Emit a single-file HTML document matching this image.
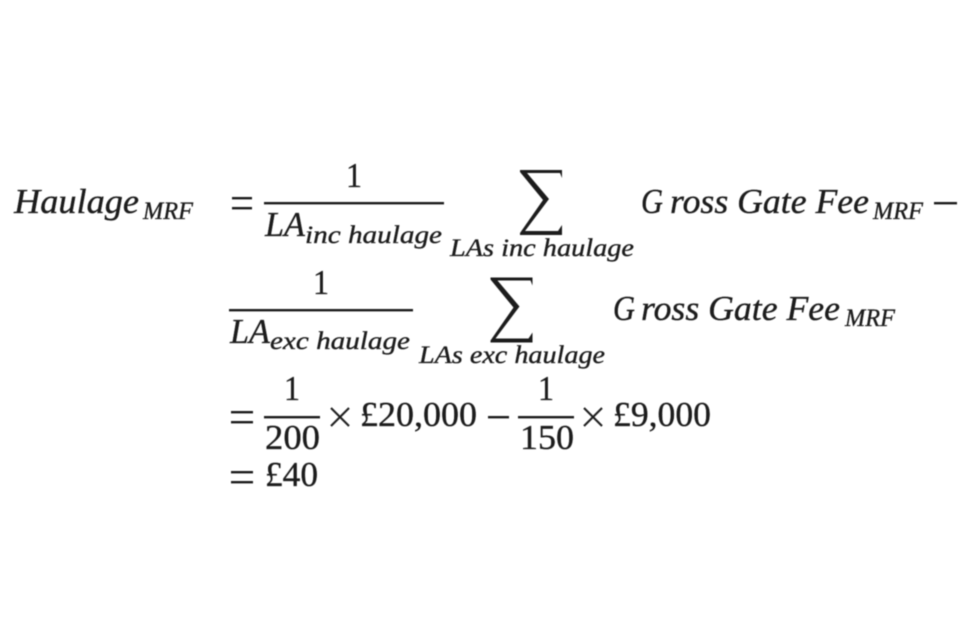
<!DOCTYPE html>
<html><head><meta charset="utf-8"><style>
html,body{margin:0;padding:0;background:#fff;width:960px;height:640px;overflow:hidden}
svg{display:block}
text{font-family:"Liberation Serif",serif;fill:#1c1c1c;stroke:#1c1c1c;stroke-width:.35px;white-space:pre}
.i{font-style:italic;font-size:35px}
.s{font-style:italic;font-size:25px}
.r{font-size:35px}
</style></head><body>
<svg width="960" height="640" viewBox="0 0 960 640" xmlns="http://www.w3.org/2000/svg">
<defs><filter id="b" x="-2%" y="-2%" width="104%" height="104%"><feGaussianBlur stdDeviation="0.5"/></filter></defs>
<rect width="960" height="640" fill="#fff"/>
<g filter="url(#b)">
<text class="i" x="14" y="213" textLength="125" lengthAdjust="spacingAndGlyphs">Haulage</text>
<text class="s" x="143" y="219" textLength="50" lengthAdjust="spacingAndGlyphs">MRF</text>
<rect x="232" y="197" width="20" height="2.4" fill="#1c1c1c"/><rect x="232" y="207" width="20" height="2.4" fill="#1c1c1c"/>
<text class="r" x="346" y="187" textLength="16" lengthAdjust="spacingAndGlyphs">1</text>
<rect x="264" y="202" width="180" height="2.4" fill="#1c1c1c"/>
<text class="i" x="265" y="236" textLength="40" lengthAdjust="spacingAndGlyphs">LA</text>
<text class="s" x="305" y="243" textLength="137" lengthAdjust="spacingAndGlyphs">inc haulage</text>
<path d="M520 170H562V178L560 173H527L549 199L525 231H558L562 225V235H520V233L543 200L520 172Z" fill="#1c1c1c"/>
<text class="s" x="450" y="256" textLength="184" lengthAdjust="spacingAndGlyphs">LAs inc haulage</text>
<text class="i" x="641" y="213" textLength="22" lengthAdjust="spacingAndGlyphs">G</text>
<text class="i" x="670" y="213" textLength="199" lengthAdjust="spacingAndGlyphs">ross Gate Fee</text>
<text class="s" x="873" y="219" textLength="50" lengthAdjust="spacingAndGlyphs">MRF</text>
<rect x="934" y="202" width="23" height="2.4" fill="#1c1c1c"/>

<text class="r" x="313" y="294" textLength="16" lengthAdjust="spacingAndGlyphs">1</text>
<rect x="229" y="309" width="184" height="2.4" fill="#1c1c1c"/>
<text class="i" x="230" y="343" textLength="40" lengthAdjust="spacingAndGlyphs">LA</text>
<text class="s" x="270" y="349" textLength="140" lengthAdjust="spacingAndGlyphs">exc haulage</text>
<path transform="translate(-29.5,107.5)" d="M520 170H562V178L560 173H527L549 199L525 231H558L562 225V235H520V233L543 200L520 172Z" fill="#1c1c1c"/>
<text class="s" x="419" y="363" textLength="186" lengthAdjust="spacingAndGlyphs">LAs exc haulage</text>
<text class="i" x="613" y="320" textLength="22" lengthAdjust="spacingAndGlyphs">G</text>
<text class="i" x="641" y="320" textLength="199" lengthAdjust="spacingAndGlyphs">ross Gate Fee</text>
<text class="s" x="845" y="326" textLength="50" lengthAdjust="spacingAndGlyphs">MRF</text>

<rect x="231" y="411" width="22" height="2.4" fill="#1c1c1c"/><rect x="231" y="421" width="22" height="2.4" fill="#1c1c1c"/>
<text class="r" x="284" y="400" textLength="16" lengthAdjust="spacingAndGlyphs">1</text>
<rect x="264" y="416" width="56" height="2.4" fill="#1c1c1c"/>
<text class="r" x="265" y="449" textLength="55" lengthAdjust="spacingAndGlyphs">200</text>
<path d="M331 408L349 426M349 408L331 426" stroke="#1c1c1c" stroke-width="2" fill="none"/>
<text class="r" x="360" y="426" textLength="117" lengthAdjust="spacingAndGlyphs">£20,000</text>
<rect x="488" y="416" width="21" height="2.4" fill="#1c1c1c"/>
<text class="r" x="538" y="400" textLength="16" lengthAdjust="spacingAndGlyphs">1</text>
<rect x="518" y="416" width="56" height="2.4" fill="#1c1c1c"/>
<text class="r" x="520" y="449" textLength="54" lengthAdjust="spacingAndGlyphs">150</text>
<path d="M584 408L602 426M602 408L584 426" stroke="#1c1c1c" stroke-width="2" fill="none"/>
<text class="r" x="613" y="426" textLength="98" lengthAdjust="spacingAndGlyphs">£9,000</text>

<rect x="231" y="471" width="22" height="2.4" fill="#1c1c1c"/><rect x="231" y="481" width="22" height="2.4" fill="#1c1c1c"/>
<text class="r" x="265" y="486" textLength="53" lengthAdjust="spacingAndGlyphs">£40</text>
</g>
</svg>
</body></html>
